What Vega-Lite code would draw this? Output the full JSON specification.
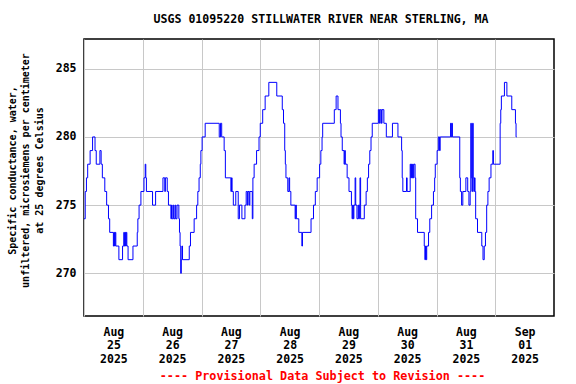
{
  "$schema": "https://vega.github.io/schema/vega-lite/v6.json",
  "width": 470,
  "height": 277,
  "autosize": {"type": "none"},
  "padding": {"left": 84, "top": 39, "right": 22, "bottom": 68},
  "background": "white",
  "config": {
    "font": "DejaVu Sans Mono",
    "view": {"stroke": "black", "strokeWidth": 1.5},
    "axis": {"labelFont": "DejaVu Sans Mono", "labelFontWeight": "bold", "labelFontSize": 11.5, "labelColor": "black", "titleFont": "DejaVu Sans Mono", "titleFontWeight": "bold", "titleFontSize": 11.5, "titleColor": "black", "gridColor": "#c8c8c8", "gridWidth": 1, "gridOpacity": 1, "domain": false, "ticks": false, "tickSize": 0}
  },
  "title": {"text": "USGS 01095220 STILLWATER RIVER NEAR STERLING, MA", "font": "DejaVu Sans Mono", "fontSize": 11.6, "fontWeight": "bold", "color": "black", "offset": 13, "dx": 2},
  "data": {"values": [
    {"t":"2025-08-25T00:00","v":274},{"t":"2025-08-25T00:30","v":276},{"t":"2025-08-25T01:00","v":277},{"t":"2025-08-25T01:30","v":278},{"t":"2025-08-25T02:30","v":279},{"t":"2025-08-25T03:30","v":280},{"t":"2025-08-25T04:30","v":279},{"t":"2025-08-25T05:00","v":278},{"t":"2025-08-25T06:30","v":279},{"t":"2025-08-25T07:00","v":278},{"t":"2025-08-25T07:30","v":277},{"t":"2025-08-25T08:30","v":276},{"t":"2025-08-25T09:15","v":275},{"t":"2025-08-25T10:00","v":274},{"t":"2025-08-25T10:30","v":273},{"t":"2025-08-25T12:00","v":272},{"t":"2025-08-25T12:15","v":273},{"t":"2025-08-25T12:30","v":272},{"t":"2025-08-25T12:45","v":273},{"t":"2025-08-25T13:00","v":272},{"t":"2025-08-25T14:15","v":271},{"t":"2025-08-25T15:45","v":272},{"t":"2025-08-25T16:15","v":273},{"t":"2025-08-25T16:30","v":272},{"t":"2025-08-25T16:45","v":273},{"t":"2025-08-25T17:00","v":272},{"t":"2025-08-25T17:15","v":273},{"t":"2025-08-25T17:30","v":272},{"t":"2025-08-25T18:00","v":271},{"t":"2025-08-25T20:00","v":272},{"t":"2025-08-25T21:45","v":273},{"t":"2025-08-25T22:00","v":274},{"t":"2025-08-25T22:30","v":275},{"t":"2025-08-25T23:15","v":276},
    {"t":"2025-08-26T00:30","v":277},{"t":"2025-08-26T01:00","v":278},{"t":"2025-08-26T01:15","v":277},{"t":"2025-08-26T01:30","v":276},{"t":"2025-08-26T04:00","v":275},{"t":"2025-08-26T05:15","v":276},{"t":"2025-08-26T08:15","v":277},{"t":"2025-08-26T09:00","v":276},{"t":"2025-08-26T09:15","v":277},{"t":"2025-08-26T10:00","v":276},{"t":"2025-08-26T10:30","v":275},{"t":"2025-08-26T11:30","v":274},{"t":"2025-08-26T11:45","v":275},{"t":"2025-08-26T12:00","v":274},{"t":"2025-08-26T12:30","v":275},{"t":"2025-08-26T12:45","v":274},{"t":"2025-08-26T13:15","v":275},{"t":"2025-08-26T13:30","v":274},{"t":"2025-08-26T14:00","v":275},{"t":"2025-08-26T14:45","v":274},{"t":"2025-08-26T15:00","v":273},{"t":"2025-08-26T15:15","v":272},{"t":"2025-08-26T15:30","v":270},{"t":"2025-08-26T15:45","v":271},{"t":"2025-08-26T16:00","v":272},{"t":"2025-08-26T16:15","v":271},{"t":"2025-08-26T19:00","v":272},{"t":"2025-08-26T19:30","v":273},{"t":"2025-08-26T21:00","v":274},{"t":"2025-08-26T22:00","v":275},{"t":"2025-08-26T22:30","v":276},{"t":"2025-08-26T23:00","v":277},{"t":"2025-08-26T23:30","v":278},{"t":"2025-08-26T23:45","v":279},
    {"t":"2025-08-27T00:15","v":280},{"t":"2025-08-27T01:30","v":281},{"t":"2025-08-27T07:15","v":280},{"t":"2025-08-27T07:45","v":281},{"t":"2025-08-27T08:15","v":280},{"t":"2025-08-27T09:15","v":279},{"t":"2025-08-27T09:45","v":277},{"t":"2025-08-27T12:00","v":276},{"t":"2025-08-27T12:15","v":277},{"t":"2025-08-27T12:30","v":276},{"t":"2025-08-27T13:00","v":275},{"t":"2025-08-27T14:00","v":276},{"t":"2025-08-27T15:00","v":274},{"t":"2025-08-27T15:30","v":275},{"t":"2025-08-27T16:30","v":274},{"t":"2025-08-27T17:45","v":275},{"t":"2025-08-27T18:15","v":276},{"t":"2025-08-27T18:45","v":275},{"t":"2025-08-27T19:00","v":276},{"t":"2025-08-27T19:30","v":275},{"t":"2025-08-27T19:45","v":276},{"t":"2025-08-27T20:45","v":274},{"t":"2025-08-27T21:00","v":277},{"t":"2025-08-27T21:30","v":278},{"t":"2025-08-27T22:30","v":279},{"t":"2025-08-27T23:30","v":280},
    {"t":"2025-08-28T00:00","v":281},{"t":"2025-08-28T01:00","v":282},{"t":"2025-08-28T02:00","v":283},{"t":"2025-08-28T03:30","v":284},{"t":"2025-08-28T06:45","v":283},{"t":"2025-08-28T09:00","v":282},{"t":"2025-08-28T09:30","v":281},{"t":"2025-08-28T10:00","v":279},{"t":"2025-08-28T10:15","v":278},{"t":"2025-08-28T10:30","v":277},{"t":"2025-08-28T11:15","v":276},{"t":"2025-08-28T11:45","v":277},{"t":"2025-08-28T12:00","v":276},{"t":"2025-08-28T12:30","v":275},{"t":"2025-08-28T14:15","v":274},{"t":"2025-08-28T14:30","v":275},{"t":"2025-08-28T14:45","v":274},{"t":"2025-08-28T15:45","v":273},{"t":"2025-08-28T17:00","v":272},{"t":"2025-08-28T17:15","v":273},{"t":"2025-08-28T20:45","v":274},{"t":"2025-08-28T21:45","v":275},{"t":"2025-08-28T22:30","v":276},{"t":"2025-08-28T23:15","v":277},
    {"t":"2025-08-29T00:15","v":278},{"t":"2025-08-29T00:45","v":279},{"t":"2025-08-29T01:15","v":280},{"t":"2025-08-29T01:30","v":281},{"t":"2025-08-29T06:15","v":282},{"t":"2025-08-29T07:00","v":283},{"t":"2025-08-29T07:45","v":282},{"t":"2025-08-29T08:45","v":281},{"t":"2025-08-29T09:00","v":280},{"t":"2025-08-29T09:30","v":279},{"t":"2025-08-29T10:15","v":278},{"t":"2025-08-29T10:30","v":279},{"t":"2025-08-29T10:45","v":278},{"t":"2025-08-29T11:30","v":277},{"t":"2025-08-29T12:15","v":276},{"t":"2025-08-29T13:15","v":275},{"t":"2025-08-29T13:30","v":274},{"t":"2025-08-29T13:45","v":275},{"t":"2025-08-29T14:00","v":274},{"t":"2025-08-29T14:15","v":275},{"t":"2025-08-29T14:45","v":277},{"t":"2025-08-29T15:00","v":275},{"t":"2025-08-29T15:30","v":274},{"t":"2025-08-29T16:00","v":275},{"t":"2025-08-29T16:15","v":274},{"t":"2025-08-29T16:30","v":275},{"t":"2025-08-29T16:45","v":277},{"t":"2025-08-29T17:00","v":274},{"t":"2025-08-29T18:30","v":275},{"t":"2025-08-29T19:15","v":276},{"t":"2025-08-29T19:45","v":277},{"t":"2025-08-29T20:15","v":278},{"t":"2025-08-29T20:45","v":279},{"t":"2025-08-29T21:15","v":280},{"t":"2025-08-29T21:45","v":281},
    {"t":"2025-08-30T00:15","v":282},{"t":"2025-08-30T00:45","v":281},{"t":"2025-08-30T01:00","v":282},{"t":"2025-08-30T01:30","v":281},{"t":"2025-08-30T01:45","v":282},{"t":"2025-08-30T02:30","v":281},{"t":"2025-08-30T03:30","v":280},{"t":"2025-08-30T06:00","v":281},{"t":"2025-08-30T08:15","v":280},{"t":"2025-08-30T09:45","v":279},{"t":"2025-08-30T10:00","v":277},{"t":"2025-08-30T10:15","v":276},{"t":"2025-08-30T11:45","v":277},{"t":"2025-08-30T12:00","v":276},{"t":"2025-08-30T13:15","v":278},{"t":"2025-08-30T13:30","v":277},{"t":"2025-08-30T13:45","v":278},{"t":"2025-08-30T14:00","v":277},{"t":"2025-08-30T14:15","v":278},{"t":"2025-08-30T14:30","v":277},{"t":"2025-08-30T14:45","v":278},{"t":"2025-08-30T15:15","v":277},{"t":"2025-08-30T15:30","v":274},{"t":"2025-08-30T16:15","v":273},{"t":"2025-08-30T19:00","v":272},{"t":"2025-08-30T19:15","v":271},{"t":"2025-08-30T19:30","v":272},{"t":"2025-08-30T19:45","v":271},{"t":"2025-08-30T20:00","v":272},{"t":"2025-08-30T20:45","v":273},{"t":"2025-08-30T21:15","v":274},{"t":"2025-08-30T22:00","v":275},{"t":"2025-08-30T22:45","v":276},{"t":"2025-08-30T23:15","v":277},{"t":"2025-08-30T23:30","v":278},
    {"t":"2025-08-31T00:15","v":279},{"t":"2025-08-31T00:45","v":280},{"t":"2025-08-31T01:15","v":279},{"t":"2025-08-31T01:30","v":280},{"t":"2025-08-31T05:45","v":281},{"t":"2025-08-31T06:00","v":280},{"t":"2025-08-31T06:15","v":281},{"t":"2025-08-31T06:30","v":280},{"t":"2025-08-31T09:30","v":277},{"t":"2025-08-31T09:45","v":276},{"t":"2025-08-31T10:15","v":275},{"t":"2025-08-31T10:45","v":276},{"t":"2025-08-31T12:00","v":277},{"t":"2025-08-31T12:45","v":276},{"t":"2025-08-31T13:15","v":275},{"t":"2025-08-31T13:45","v":276},{"t":"2025-08-31T14:00","v":281},{"t":"2025-08-31T14:15","v":277},{"t":"2025-08-31T14:30","v":276},{"t":"2025-08-31T14:45","v":281},{"t":"2025-08-31T15:00","v":277},{"t":"2025-08-31T15:15","v":276},{"t":"2025-08-31T15:30","v":277},{"t":"2025-08-31T15:45","v":276},{"t":"2025-08-31T16:00","v":274},{"t":"2025-08-31T16:45","v":273},{"t":"2025-08-31T18:30","v":272},{"t":"2025-08-31T19:00","v":271},{"t":"2025-08-31T19:30","v":272},{"t":"2025-08-31T20:00","v":273},{"t":"2025-08-31T20:30","v":275},{"t":"2025-08-31T21:00","v":276},{"t":"2025-08-31T21:30","v":277},{"t":"2025-08-31T22:15","v":278},{"t":"2025-08-31T23:00","v":279},{"t":"2025-08-31T23:15","v":278},
    {"t":"2025-09-01T02:00","v":281},{"t":"2025-09-01T02:15","v":282},{"t":"2025-09-01T02:30","v":283},{"t":"2025-09-01T03:45","v":284},{"t":"2025-09-01T04:45","v":283},{"t":"2025-09-01T06:45","v":282},{"t":"2025-09-01T08:15","v":281},{"t":"2025-09-01T08:30","v":280},{"t":"2025-09-01T08:45","v":280}
  ]},
  "mark": {"type": "line", "interpolate": "step-after", "color": "#0000ff", "strokeWidth": 1},
  "encoding": {
    "x": {
      "field": "t", "type": "temporal",
      "scale": {"domain": [{"year": 2025, "month": "aug", "date": 25}, {"year": 2025, "month": "sep", "date": 2}]},
      "axis": {
        "values": [{"year": 2025, "month": "aug", "date": 25}, {"year": 2025, "month": "aug", "date": 26}, {"year": 2025, "month": "aug", "date": 27}, {"year": 2025, "month": "aug", "date": 28}, {"year": 2025, "month": "aug", "date": 29}, {"year": 2025, "month": "aug", "date": 30}, {"year": 2025, "month": "aug", "date": 31}, {"year": 2025, "month": "sep", "date": 1}],
        "labelExpr": "[timeFormat(datum.value, '%b'), timeFormat(datum.value, '%d'), timeFormat(datum.value, '%Y')]",
        "labelOffset": 29.4, "labelAlign": "center", "labelFlush": false, "labelOverlap": false, "labelBound": false,
        "labelPadding": 10, "labelLineHeight": 13.5,
        "grid": true,
        "title": "---- Provisional Data Subject to Revision ----",
        "titleColor": "#ff0000", "titlePadding": 6, "titleFontSize": 11.75, "titleX": 238
      }
    },
    "y": {
      "field": "v", "type": "quantitative",
      "scale": {"domain": [266.87, 287.18], "nice": false, "zero": false},
      "axis": {
        "values": [270, 275, 280, 285],
        "labelPadding": 8,
        "grid": true,
        "title": ["Specific conductance, water,", "unfiltered, microsiemens per centimeter", "at 25 degrees Celsius"],
        "titleFontSize": 10,
        "titleLineHeight": 13.5,
        "titleX": -72, "titleY": 131, "titleAlign": "center", "titleBaseline": "middle", "titleAngle": -90
      }
    }
  }
}
